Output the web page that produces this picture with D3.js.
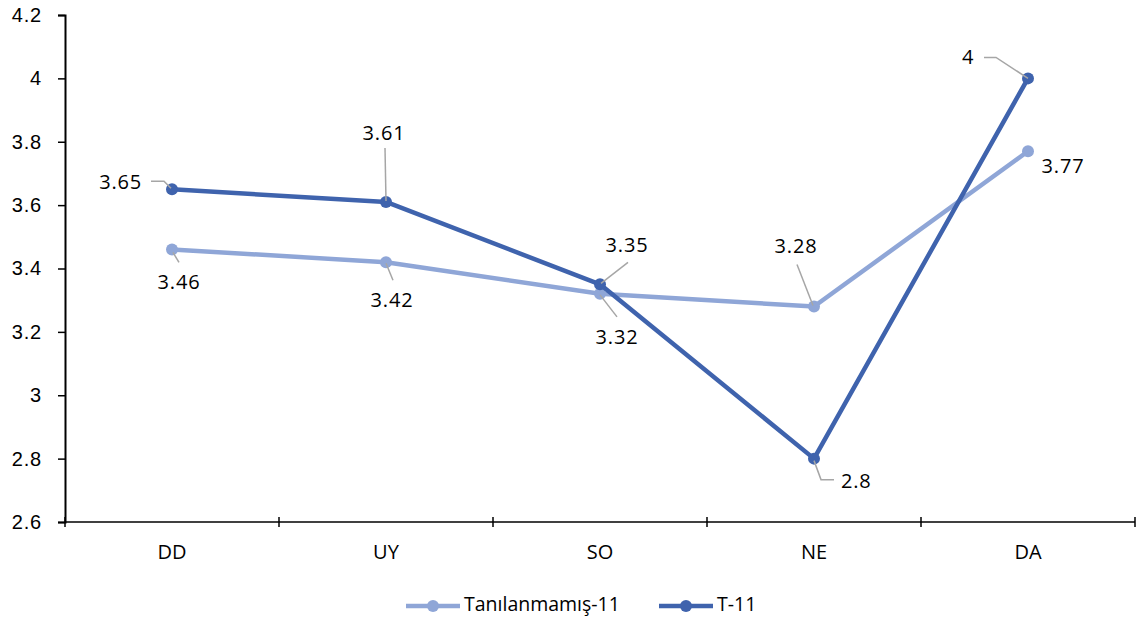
<!DOCTYPE html>
<html>
<head>
<meta charset="utf-8">
<script src="https://cdn.jsdelivr.net/npm/d3@7"></script>
<style>
  html, body { margin: 0; padding: 0; background: #fff; }
  svg { display: block; font-family: "Open Sans", "Noto Sans", sans-serif; }
</style>
</head>
<body>
<svg id="chart" width="1137" height="623"></svg>
<script>
// Categories and series values
const categories = ["DD", "UY", "SO", "NE", "DA"];
const seriesNames = ["Tanılanmamış-11", "T-11"];
const tanilanmamis = [3.46, 3.42, 3.32, 3.28, 3.77];
const t11 = [3.65, 3.61, 3.35, 2.8, 4.0];
const yTicks = [2.6, 2.8, 3, 3.2, 3.4, 3.6, 3.8, 4, 4.2];

const colors = ["#8FA6D7", "#3F63AD"];

// Label placement per point: text offset (dx, dy) from the marker and leader path offsets
const labelLayout = [
  // Tanılanmamış-11
  [
    { dx: 7, dy: 34, anchor: "middle", leader: [[1, 3], [7, 13]] },
    { dx: 6, dy: 39, anchor: "middle", leader: [[0, 1], [7, 18]] },
    { dx: 17, dy: 45, anchor: "middle", leader: [[0, 1], [17, 23]] },
    { dx: -18, dy: -59, anchor: "middle", leader: [[-1, -1], [-17, -42]] },
    { dx: 35, dy: 16, anchor: "middle", leader: null }
  ],
  // T-11
  [
    { dx: -30, dy: -6, anchor: "end", leader: [[-1, -1], [-8, -8], [-21, -8]] },
    { dx: -2, dy: -67, anchor: "middle", leader: [[0, -1], [-1, -54]] },
    { dx: 27, dy: -38, anchor: "middle", leader: [[1, -1], [28, -22]] },
    { dx: 27, dy: 24, anchor: "start", leader: [[0, 2], [7, 21], [20, 21]] },
    { dx: -60, dy: -20, anchor: "middle", leader: [[0, 0], [-32, -21], [-44, -21]] }
  ]
];

const svg = d3.select("#chart");
const margin = { left: 65, right: 2, top: 15, bottom: 101 };
const W = 1137, H = 623;
const fontSize = 20;

const x = d3.scaleBand().domain(categories).range([margin.left, W - margin.right]).padding(0);
const y = d3.scaleLinear().domain([2.6, 4.2]).range([H - margin.bottom, margin.top]);
const cx = c => x(c) + x.bandwidth() / 2;

// Y axis
const yAxis = d3.axisLeft(y).tickValues(yTicks).tickSize(7).tickPadding(16)
  .tickFormat(d => d3.format("")(+d.toFixed(1)));
const gy = svg.append("g").attr("transform", `translate(${margin.left},0)`).call(yAxis);
gy.select(".domain").attr("stroke", "#000").attr("stroke-width", 2);
gy.selectAll(".tick line").attr("stroke", "#000").attr("stroke-width", 1.5);
gy.selectAll(".tick text").attr("font-size", fontSize).attr("letter-spacing", 0.8).attr("fill", "#000");

// X axis: line at the bottom with tick marks at band boundaries
const gx = svg.append("g").attr("transform", `translate(0,${y(2.6)})`);
gx.append("line").attr("x1", margin.left).attr("x2", W - margin.right)
  .attr("stroke", "#000").attr("stroke-width", 1.5);
const boundaries = categories.map(c => x(c)).concat([x(categories[categories.length - 1]) + x.bandwidth()]);
gx.selectAll(".xtick").data(boundaries).join("line")
  .attr("x1", d => d).attr("x2", d => d).attr("y1", -5).attr("y2", 5)
  .attr("stroke", "#000").attr("stroke-width", 1.5);
gx.selectAll(".xlabel").data(categories).join("text")
  .attr("x", d => cx(d)).attr("y", 32).attr("text-anchor", "middle")
  .attr("dominant-baseline", "middle")
  .attr("font-size", fontSize).attr("fill", "#000").text(d => d);

// Series
const allSeries = [tanilanmamis, t11];
const line = d3.line().x((d, i) => cx(categories[i])).y(d => y(d));

allSeries.forEach((vals, si) => {
  const g = svg.append("g");
  g.append("path").datum(vals).attr("d", line).attr("fill", "none")
    .attr("stroke", colors[si]).attr("stroke-width", 4.5).attr("stroke-linejoin", "round");
  g.selectAll("circle").data(vals).join("circle")
    .attr("cx", (d, i) => cx(categories[i])).attr("cy", d => y(d)).attr("r", 6)
    .attr("fill", colors[si]);
});

// Data labels with leader lines
allSeries.forEach((vals, si) => {
  const g = svg.append("g");
  vals.forEach((v, i) => {
    const px = cx(categories[i]), py = y(v);
    const lay = labelLayout[si][i];
    if (lay.leader) {
      g.append("path")
        .attr("d", d3.line()(lay.leader.map(p => [px + p[0], py + p[1]])))
        .attr("fill", "none").attr("stroke", "#A6A6A6").attr("stroke-width", 1.5);
    }
    g.append("text").attr("x", px + lay.dx).attr("y", py + lay.dy)
      .attr("text-anchor", lay.anchor).attr("dominant-baseline", "middle")
      .attr("font-size", fontSize).attr("letter-spacing", 0.8)
      .attr("fill", "#000").text(d3.format("")(v));
  });
});

// Legend
const legend = svg.append("g").attr("transform", "translate(0,606)");
const legendX = [406, 659];
seriesNames.forEach((name, si) => {
  const lx = legendX[si];
  legend.append("line").attr("x1", lx).attr("x2", lx + 54).attr("y1", 0).attr("y2", 0)
    .attr("stroke", colors[si]).attr("stroke-width", 4.5);
  legend.append("circle").attr("cx", lx + 27).attr("cy", 0).attr("r", 6).attr("fill", colors[si]);
  legend.append("text").attr("x", lx + 58).attr("y", 0).attr("dominant-baseline", "middle")
    .attr("font-size", 19.5).attr("fill", "#000").text(name);
});
</script>
</body>
</html>
